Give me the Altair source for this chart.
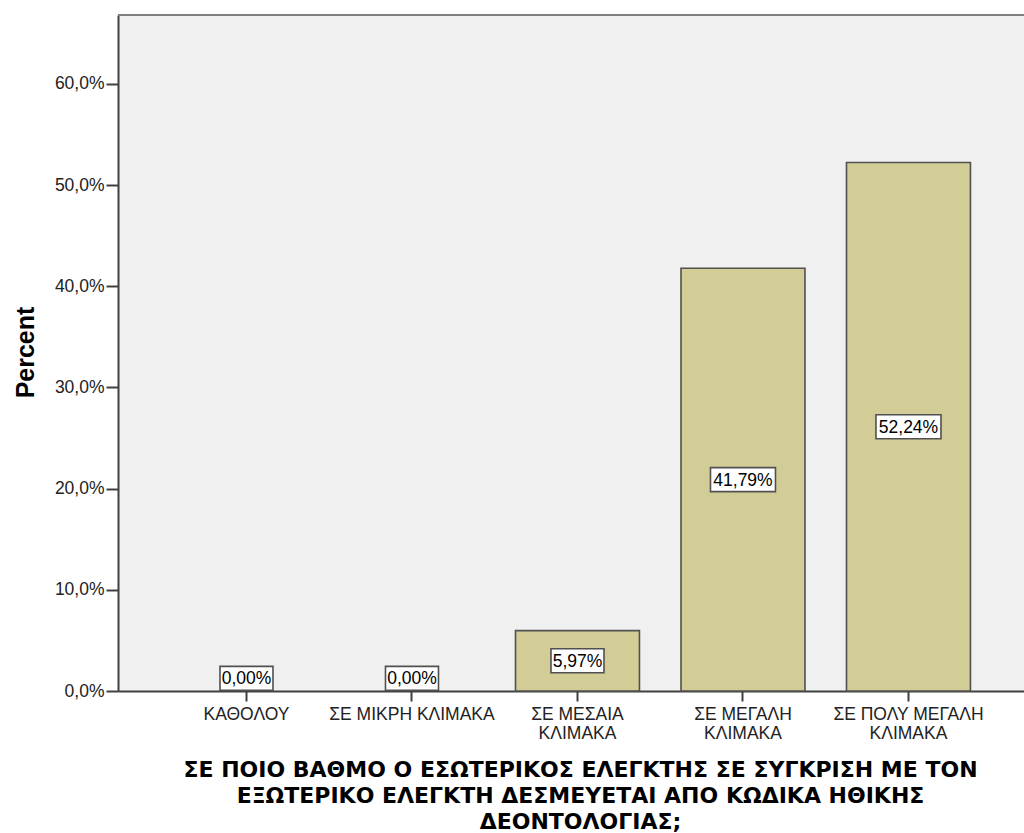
import altair as alt
import pandas as pd

categories = ["ΚΑΘΟΛΟΥ", "ΣΕ ΜΙΚΡΗ ΚΛΙΜΑΚΑ", "ΣΕ ΜΕΣΑΙΑ\nΚΛΙΜΑΚΑ",
              "ΣΕ ΜΕΓΑΛΗ\nΚΛΙΜΑΚΑ", "ΣΕ ΠΟΛΥ ΜΕΓΑΛΗ\nΚΛΙΜΑΚΑ"]
percents = [0.0, 0.0, 5.97, 41.79, 52.24]
y_ticks = [0, 10, 20, 30, 40, 50, 60]
x_title = ["ΣΕ ΠΟΙΟ ΒΑΘΜΟ Ο ΕΣΩΤΕΡΙΚΟΣ ΕΛΕΓΚΤΗΣ ΣΕ ΣΥΓΚΡΙΣΗ ΜΕ ΤΟΝ",
           "ΕΞΩΤΕΡΙΚΟ ΕΛΕΓΚΤΗ ΔΕΣΜΕΥΕΤΑΙ ΑΠΟ ΚΩΔΙΚΑ ΗΘΙΚΗΣ",
           "ΔΕΟΝΤΟΛΟΓΙΑΣ;"]
y_title = "Percent"

df = pd.DataFrame({"cat": categories, "pct": percents})

W, H = 906, 676
FONT = "Liberation Sans"

x_axis = alt.Axis(
    title=x_title, labelAngle=0, tickSize=10, labelPadding=4,
    labelLineHeight=19, labelExpr="split(datum.label, '\\n')",
    labelLimit=0, labelOverlap=False,
    titleX=462, titleY=85, titleAlign="center", titleBaseline="alphabetic",
    titleLineHeight=26, titleFontSize=22, titleFont="DejaVu Sans",
)
y_axis = alt.Axis(
    title=y_title, values=y_ticks, tickSize=12, labelPadding=2,
    labelExpr="replace(format(datum.value, '.1f'), '.', ',') + '%'",
    titleX=-85, titleY=337, titleAngle=270, titleAlign="center",
    titleBaseline="alphabetic", titleFontSize=25, titleFont=FONT,
)
x_scale = alt.Scale(paddingInner=0.251, paddingOuter=0.3627, align=0.554)
y_scale = alt.Scale(domain=[0, 66.82], nice=False, zero=True)

X = alt.X("cat:N", sort=categories, scale=x_scale, axis=x_axis)

base = alt.Chart(df).transform_calculate(
    lp="max(datum.pct / 2, 1.25)",
).transform_calculate(
    lo="datum.lp - 1.186",
    hi="datum.lp + 1.186",
    lbl="replace(format(datum.pct, '.2f'), '.', ',') + '%'",
).transform_calculate(
    bw="length(datum.lbl) * 12 - 7",
)

bars = base.transform_filter("datum.pct > 0").mark_bar(
    fill="#d2cd96", stroke="#505050", strokeWidth=1.6
).encode(
    x=X,
    y=alt.Y("pct:Q", scale=y_scale, axis=y_axis),
)

boxes = base.mark_bar(
    fill="white", stroke="#505050", strokeWidth=1.6
).encode(
    x=X,
    y=alt.Y("lo:Q", scale=y_scale, axis=y_axis),
    y2="hi:Q",
    size=alt.Size("bw:Q", scale=None, legend=None),
)

texts = base.mark_text(
    font=FONT, fontSize=17.5, color="black", baseline="middle", dy=1
).encode(
    x=X,
    y=alt.Y("lp:Q", scale=y_scale, axis=y_axis),
    text="lbl:N",
)

top_border = alt.Chart(df).mark_rule(color="#808080", strokeWidth=2).encode(
    x=alt.value(0), x2=alt.value(W), y=alt.value(0)
)

chart = alt.layer(bars, boxes, texts, top_border).properties(
    width=W, height=H,
    autosize=alt.AutoSizeParams(type="none"),
    padding={"left": 118, "top": 15, "right": 0, "bottom": 142},
    background="white",
).configure_view(
    fill="#f0f0f0", stroke=None
).configure_axis(
    domainColor="#404040", domainWidth=2,
    tickColor="#404040", tickWidth=2,
    labelFont=FONT, labelFontSize=17.5, labelColor="#222222",
    titleFontWeight="bold", titleColor="black",
    grid=False,
)

chart.save("out.html", embed_options={"renderer": "svg", "actions": False})
